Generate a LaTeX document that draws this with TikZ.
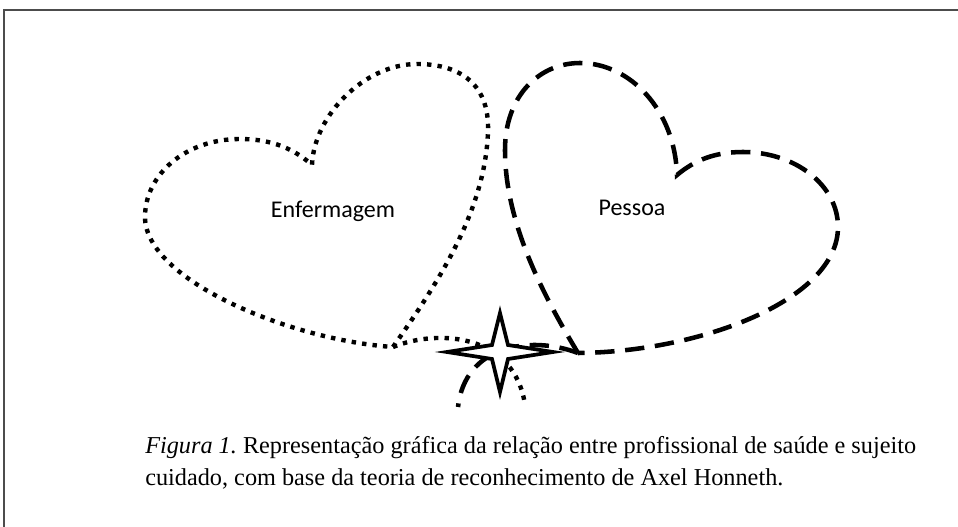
\documentclass[tikz,border=0pt]{standalone}
\usepackage{fontspec}
\setmainfont{Liberation Serif}
\newfontfamily\labelfont{Carlito}
\usetikzlibrary{positioning}

\begin{document}
\begin{tikzpicture}[x=0.75pt, y=-0.75pt]
  \tikzstyle{frameline} = [draw=black!70, line width=1.3pt];
  \tikzstyle{dotline} = [black, line width=3.3pt, dash pattern=on 3.3pt off 4.6pt];
  \tikzstyle{dashline} = [black, line width=3.4pt, dash pattern=on 14.5pt off 8pt];
  \tikzstyle{starline} = [draw=black, fill=white, line width=2.8pt, miter limit=20];
  \tikzstyle{heartLabel} = [anchor=base, font={\labelfont\fontsize{18}{22}\selectfont}];
  \tikzstyle{capLabel} = [anchor=base west, inner sep=0pt, font={\fontsize{18.2}{24}\selectfont\frenchspacing}];

  \useasboundingbox (0,0) rectangle (958,527);
  \draw[frameline] (4,527) -- (4,10) -- (958,10);

  \coordinate (enftip) at (393,347);
  \coordinate (pestip) at (578,353);

  % Enfermagem
  \draw[dotline] (enftip) .. controls (440,280) and (485,210) .. (488,132)
    .. controls (490,80) and (455,64) .. (417,64)
    .. controls (365,64) and (314,115) .. (312,165)
    .. controls (290,145) and (265,139) .. (240,139)
    .. controls (185,139) and (145,175) .. (145,217)
    .. controls (145,280) and (290,340) .. (enftip);
  % Pessoa
  \draw[dashline] (pestip) .. controls (540,290) and (505,220) .. (505,150)
    .. controls (505,95) and (540,63) .. (580,63)
    .. controls (630,63) and (675,110) .. (677,175)
    .. controls (695,160) and (715,152) .. (743,152)
    .. controls (795,152) and (838,185) .. (838,227)
    .. controls (838,300) and (700,352) .. (pestip);

  \coordinate (enfend) at (525,405);
  \coordinate (pesend) at (458,407);
  \draw[dotline] (enftip) .. controls (440,328) and (515,335) .. (enfend);
  \draw[dashline] (pestip) .. controls (530,335) and (465,345) .. (pesend);

  % estrela
  \coordinate (star) at (500,352);
  \draw[starline] (553,352) -- (508,345) -- (500,313) -- (492,345) -- (447,352)
    -- (492,359) -- (500,392) -- (508,359) -- cycle;

  \node[heartLabel] (enf) at (333,218) {Enfermagem};
  \node[heartLabel] (pes) at (632,216) {Pessoa};

  \node[capLabel] (cap1) at (145,454) {\textit{Figura 1.} Representação gráfica da relação entre profissional de saúde e sujeito};
  \node[capLabel] (cap2) at (145,486) {cuidado, com base da teoria de reconhecimento de Axel Honneth.};
\end{tikzpicture}
\end{document}
